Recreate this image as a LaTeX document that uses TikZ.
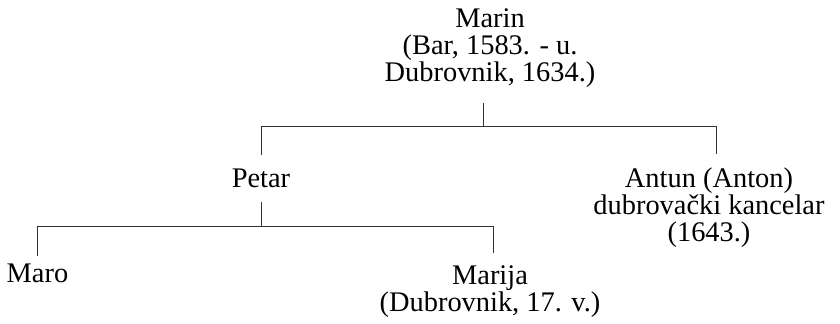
\documentclass[tikz,border=0pt]{standalone}
\usepackage{fontspec}
\setmainfont{Liberation Serif}
\begin{document}
\begin{tikzpicture}[x=0.75pt,y=-0.75pt,
  person/.style={anchor=base, align=center, inner sep=0pt,
    font=\fontsize{21.3}{20.6}\selectfont},
  link/.style={draw=black!80, line width=0.7pt}]
\useasboundingbox (0,0) rectangle (840,324);
% nodes, placed at the baseline of their last line
\node[person] (marin) at (490,82) {Marin\\(Bar, 1583. - u.\\Dubrovnik, 1634.)};
\node[person] (petar) at (261,188) {Petar};
\node[person] (antun) at (709,242) {Antun (Anton)\\dubrova\v{c}ki kancelar\\(1643.)};
\node[person] (maro) at (37.5,283) {Maro};
\node[person] (marija) at (490,311.5) {Marija\\(Dubrovnik, 17. v.)};
% junctions
\coordinate (j1) at (483,126);
\coordinate (j1l) at (261,126);
\coordinate (j1r) at (716,126);
\coordinate (j2) at (261,226);
\coordinate (j2l) at (37.7,226);
\coordinate (j2r) at (493,226);
% connectors
\draw[link] ([yshift=-15.75pt]marin.base -| j1) -- (j1);
\draw[link] (j1l) -- (j1r);
\draw[link] (j1l) -- ([yshift=24.75pt]petar.base -| j1l);
\draw[link] (j1r) -- ([yshift=66pt]antun.base -| j1r);
\draw[link] ([yshift=-10.5pt]petar.base -| j2) -- (j2);
\draw[link] (j2l) -- (j2r);
\draw[link] (j2l) -- ([yshift=20.25pt]maro.base -| j2l);
\draw[link] (j2r) -- ([yshift=43.9pt]marija.base -| j2r);
\end{tikzpicture}
\end{document}
